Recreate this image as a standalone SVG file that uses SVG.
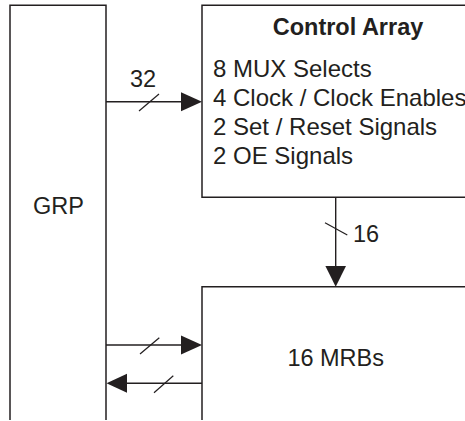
<svg xmlns="http://www.w3.org/2000/svg" width="465" height="421" viewBox="0 0 465 421">
<defs>
<style>
.box{fill:none;stroke:#231f20;stroke-width:1.5}
.ln{fill:none;stroke:#231f20;stroke-width:1.4}
.sl{fill:none;stroke:#231f20;stroke-width:1.2}
.ah{fill:#231f20;stroke:none}
text{font-family:"Liberation Sans",Arial,Helvetica,sans-serif;font-size:23.5px;fill:#231f20}
.b{font-weight:bold}
.it{font-size:24px}
</style>
</defs>
<rect width="465" height="421" fill="#ffffff"/>
<g id="grp">
<path class="box" d="M10,420 V5.3 H106 V420"/>
<text x="58.5" y="213.5" text-anchor="middle">GRP</text>
</g>
<g id="control-array">
<path class="box" d="M466,5.3 H202 V197.3 H466"/>
<text class="b" x="348" y="34.5" text-anchor="middle">Control Array</text>
<text class="it" x="213" y="77.3">8 MUX Selects</text>
<text class="it" x="213" y="106.3">4 Clock / Clock Enables</text>
<text class="it" x="213" y="135.3">2 Set / Reset Signals</text>
<text class="it" x="213" y="164.3">2 OE Signals</text>
</g>
<g id="mrbs">
<path class="box" d="M202,420 V286.7 H466"/>
<text x="335.7" y="366" text-anchor="middle">16 MRBs</text>
</g>
<g id="connectors">
<path class="ln" d="M106,101.7 H182"/>
<path class="ah" d="M181,92.2 L202,101.7 L181,111.2 Z"/>
<path class="sl" d="M139,111 L159,94"/>
<text x="143" y="86.7" text-anchor="middle">32</text>
<path class="ln" d="M335.7,197.3 V267"/>
<path class="ah" d="M325.4,266 L335.7,286.7 L346,266 Z"/>
<path class="sl" d="M325,222.7 L347.3,235"/>
<text x="353" y="242.3">16</text>
<path class="ln" d="M106,345 H182"/>
<path class="ah" d="M181,335.5 L202,345 L181,354.5 Z"/>
<path class="sl" d="M140,354 L159.3,337.7"/>
<path class="ln" d="M126,383.3 H202"/>
<path class="ah" d="M127,373.8 L106.5,383.3 L127,392.8 Z"/>
<path class="sl" d="M154,392.7 L173.3,375.7"/>
</g>
</svg>
